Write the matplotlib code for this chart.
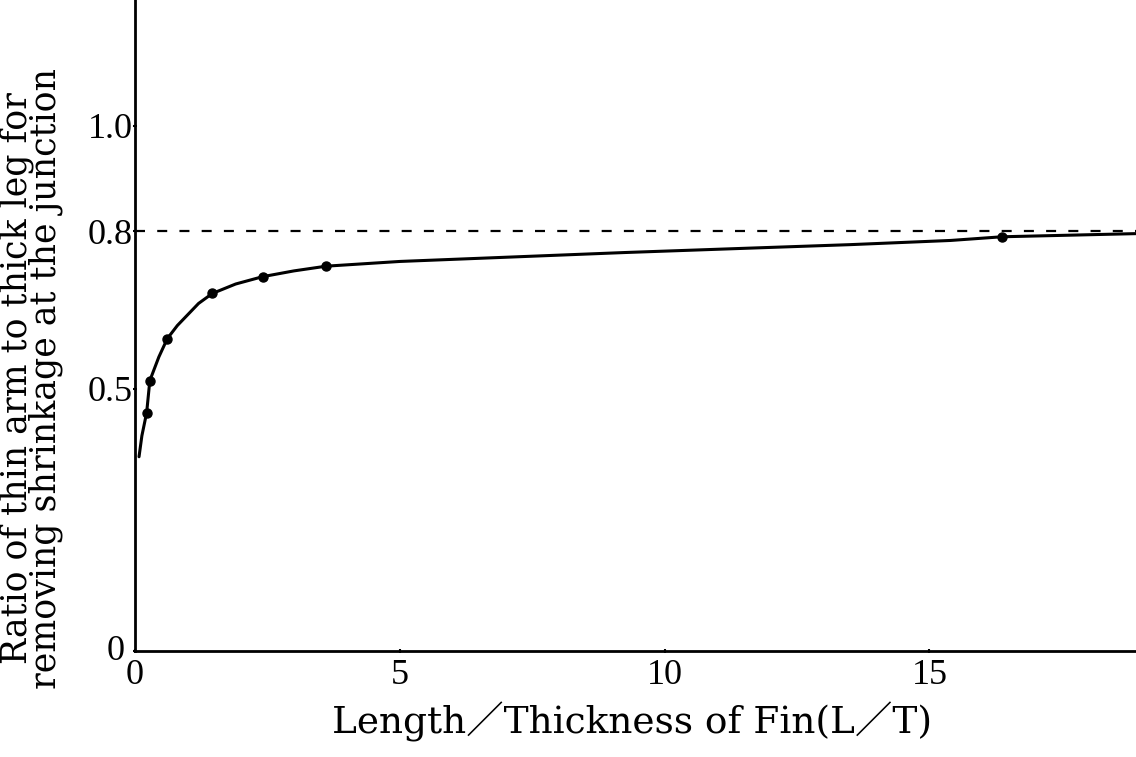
import matplotlib
matplotlib.use('Agg')
import matplotlib.pyplot as plt
import matplotlib.transforms as transforms

# measured points (markers)
lt_points    = [0.22, 0.28, 0.61, 1.46, 2.41, 3.61, 16.37]
ratio_points = [0.454, 0.515, 0.595, 0.681, 0.713, 0.733, 0.789]

# hand-drawn fitted curve
curve_lt    = [0.076, 0.13, 0.22, 0.28, 0.45, 0.61, 0.80, 1.00, 1.20, 1.46,
               1.90, 2.41, 3.00, 3.61, 5.0, 7.0, 9.25, 11.5, 13.5, 15.4, 16.37, 18.9]
curve_ratio = [0.37, 0.41, 0.454, 0.515, 0.56, 0.595, 0.620, 0.641, 0.662, 0.681,
               0.699, 0.713, 0.724, 0.733, 0.742, 0.750, 0.759, 0.767, 0.774, 0.782, 0.789, 0.795]

limit_ratio = 0.8

yticks      = [0, 0.5, 0.8, 1.0]
ytick_labs  = ['0', '0.5', '0.8', '1.0']
xticks      = [0, 5, 10, 15]
xtick_labs  = ['0', '5', '10', '15']

XLAB = 'Length\uff0fThickness of Fin(L\uff0fT)'
YLAB = 'Ratio of thin arm to thick leg for\nremoving shrinkage at the junction'
FONTS = ['DejaVu Serif', 'Noto Sans CJK SC']

fig = plt.figure(figsize=(11.36, 7.57), dpi=100)
ax  = fig.add_axes([135/1136., 1 - 651/757., 1 - 135/1136., 651/757.])

ax.plot(curve_lt, curve_ratio, '-', color='black', lw=2.2, solid_capstyle='round')
ax.plot(lt_points, ratio_points, 'o', color='black', markersize=6.5)
ax.axhline(limit_ratio, color='black', lw=1.6, dashes=(4.5, 5.5))

ax.set_xlim(0, 18.9)
ax.set_ylim(0, 1.24)
for s in ['top', 'right']:
    ax.spines[s].set_visible(False)
for s in ['left', 'bottom']:
    ax.spines[s].set_linewidth(2.0)

ax.set_xticks(xticks)
ax.set_xticklabels(xtick_labs, family='Liberation Serif', fontsize=26)
ax.set_yticks(yticks)
ax.set_yticklabels(ytick_labs, family='Liberation Serif', fontsize=26)
ax.tick_params(axis='x', length=3, width=1.5, direction='inout', pad=4)
ax.tick_params(axis='y', length=3, width=1.5, direction='inout', pad=0)

# the origin label on the y axis sits a little left and up
lab0 = ax.get_yticklabels()[0]
lab0.set_transform(lab0.get_transform() +
                   transforms.ScaledTranslation(-8/100., 3/100., fig.dpi_scale_trans))

fig.text(632/1136., 1 - 722/757., XLAB, family=FONTS, fontsize=27,
         ha='center', va='center')
fig.text(31/1136., 0.5, YLAB, family=FONTS, fontsize=25,
         rotation=90, ha='center', va='center', linespacing=0.78)

fig.savefig('out.png', dpi=100)
